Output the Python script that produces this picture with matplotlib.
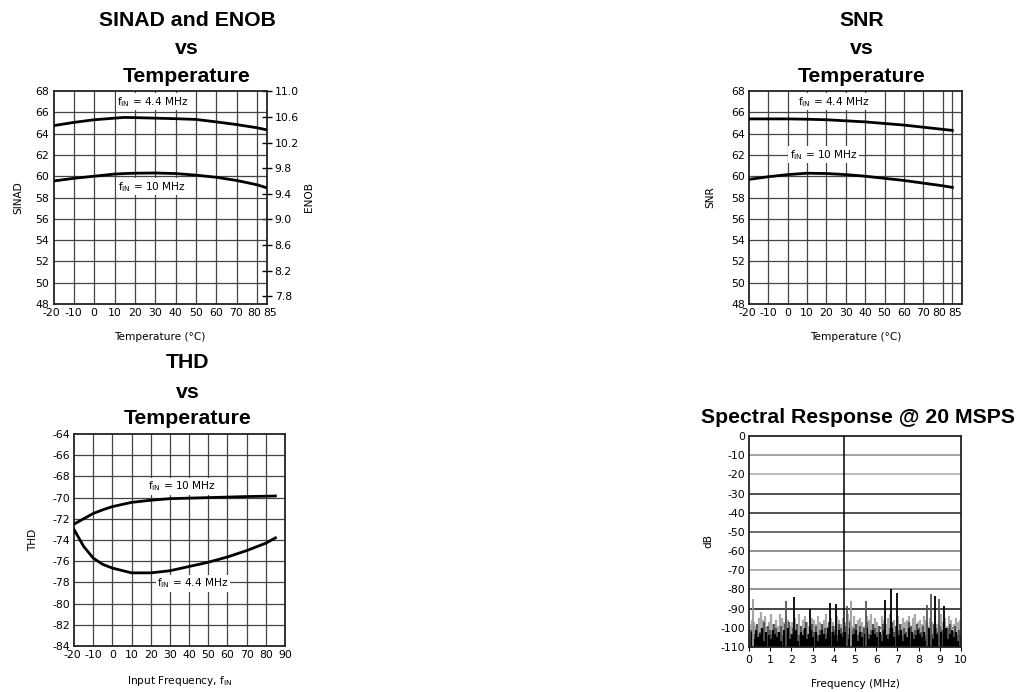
import numpy as np
import matplotlib
matplotlib.use("Agg")
import matplotlib.pyplot as plt
from matplotlib.transforms import ScaledTranslation

W, H = 1022, 692

# ---------------- data ----------------
temp_sinad = [-20, -10, 0, 10, 15, 20, 30, 40, 50, 60, 70, 80, 85]
sinad_44 = [64.75, 65.05, 65.3, 65.45, 65.52, 65.5, 65.45, 65.4, 65.33, 65.1, 64.85, 64.55, 64.35]
sinad_10 = [59.55, 59.8, 60.0, 60.2, 60.25, 60.28, 60.3, 60.25, 60.1, 59.9, 59.6, 59.2, 58.9]

temp_snr = [-20, -10, 0, 10, 20, 30, 40, 50, 60, 70, 80, 85]
snr_44 = [65.38, 65.38, 65.38, 65.35, 65.3, 65.2, 65.1, 64.95, 64.8, 64.6, 64.4, 64.3]
snr_10 = [59.7, 59.95, 60.15, 60.28, 60.25, 60.15, 60.0, 59.8, 59.6, 59.35, 59.1, 58.95]

temp_thd = [-20, -15, -10, -5, 0, 10, 20, 30, 40, 50, 60, 70, 80, 85]
thd_10 = [-72.5, -72.0, -71.5, -71.15, -70.85, -70.45, -70.25, -70.1, -70.05, -70.0, -69.95, -69.9, -69.87, -69.85]
thd_44 = [-73.0, -74.6, -75.7, -76.3, -76.65, -77.1, -77.1, -76.9, -76.5, -76.1, -75.6, -75.0, -74.3, -73.8]

temp_ticks = [-20, -10, 0, 10, 20, 30, 40, 50, 60, 70, 80, 85]
thd_ticks = [-20, -10, 0, 10, 20, 30, 40, 50, 60, 70, 80, 90]
enob_ticks = [7.8, 8.2, 8.6, 9.0, 9.4, 9.8, 10.2, 10.6, 11.0]

# spectral response (dB), 0 to 10 MHz
fundamental_freq = 4.5
fundamental_db = 0.0
spur_freq = [0.2, 1.75, 2.1, 2.9, 3.8, 4.1, 4.6, 4.8, 5.5, 6.4, 6.7, 7.0, 8.4, 8.6, 8.75, 8.95, 9.2]
spur_db = [-85, -86, -84, -90, -87, -87.5, -88.5, -86, -86, -85.5, -80, -82, -88, -82.5, -83.5, -85, -88.5]
spur_shade = ['#999999', '#555555', '#000000', '#000000', '#000000', '#000000', '#555555', '#999999',
              '#555555', '#000000', '#000000', '#000000', '#555555', '#555555', '#000000', '#555555', '#000000']

noise_light = [-98, -96, -97, -99, -95, -92, -96, -94, -100, -97, -93, -98, -96, -99, -93, -95, -97, -94, -96, -99,
               -97, -95, -98, -93, -100, -96, -94, -97, -99, -95, -96, -98, -94, -97, -99, -96, -93, -98, -95, -97,
               -99, -94, -96, -98, -95, -97, -93, -96, -99, -94, -98, -96, -95, -97, -99, -94, -96, -93, -98, -95,
               -97, -99, -94, -96, -98, -95, -93, -97, -96, -99, -94, -98, -95, -97, -96, -94, -99, -95, -93, -97,
               -96, -98, -94, -96, -99, -95, -97, -94, -98, -96, -93, -97, -95, -99, -94, -96, -98, -95, -97, -96]
noise_mid = [-101, -99, -103, -98, -102, -100, -97, -104, -99, -101, -103, -98, -100, -102, -99, -104, -98, -101, -97, -103,
             -100, -102, -98, -104, -99, -101, -97, -103, -100, -98, -102, -99, -104, -101, -98, -100, -103, -97, -102, -99,
             -101, -104, -98, -100, -102, -99, -103, -97, -101, -100, -98, -104, -99, -102, -100, -97, -103, -101, -98, -100,
             -102, -99, -104, -98, -101, -103, -100, -97, -102, -99, -101, -98, -104, -100, -102, -97, -99, -103, -101, -98,
             -100, -102, -99, -104, -97, -101, -103, -98, -100, -102, -99, -101, -97, -103, -100, -98, -102, -99, -104, -101]
noise_dark = [-104, -102, -106, -101, -105, -103, -100, -107, -102, -104, -106, -101, -103, -105, -102, -107, -101, -104, -100, -106,
              -103, -105, -101, -107, -102, -104, -100, -106, -103, -101, -105, -102, -107, -104, -101, -103, -106, -100, -105, -102,
              -104, -107, -101, -103, -105, -102, -106, -100, -104, -103, -101, -107, -102, -105, -103, -100, -106, -104, -101, -103,
              -105, -102, -107, -101, -104, -106, -103, -100, -105, -102, -104, -101, -107, -103, -105, -100, -102, -106, -104, -101,
              -103, -105, -102, -107, -100, -104, -106, -101, -103, -105, -102, -104, -100, -106, -103, -101, -105, -102, -107, -104]

# ---------------- style ----------------
plt.rcParams['font.family'] = ['DejaVu Sans']
plt.rcParams['axes.unicode_minus'] = False
TICK_FS = 7.8
LBL_FS = 7.6
TITLE_FS = 15.3
LINE_W = 2.0

fig = plt.figure(figsize=(W / 100, H / 100), dpi=100)


def rect(l, t, r, b):
    return [l / W, 1 - b / H, (r - l) / W, (b - t) / H]


def style_axes(ax):
    for s in ax.spines.values():
        s.set_linewidth(1.3)
        s.set_color('#222222')
    ax.tick_params(labelsize=TICK_FS, length=0, pad=3)


def grid(ax, xs, ys, xlim, ylim):
    for x in xs:
        ax.plot([x, x], ylim, color='#444444', lw=0.9, zorder=1)
    for y in ys:
        ax.plot(xlim, [y, y], color='#444444', lw=0.9, zorder=1)


def flabel(ax, x, y, text):
    ax.text(x, y, text, fontsize=LBL_FS, ha='center', va='center', zorder=4,
            bbox=dict(facecolor='white', edgecolor='none', pad=1.2))


def title(xc, yc_lines, lines):
    for yc, t in zip(yc_lines, lines):
        fig.text(xc / W, 1 - yc / H, t, fontsize=TITLE_FS, fontweight='bold',
                 family='Liberation Sans', ha='center', va='center')


def shift_label(lbl, dx_px):
    lbl.set_transform(lbl.get_transform() + ScaledTranslation(dx_px / 100, 0, fig.dpi_scale_trans))


def separate_ends(ax):
    labels = ax.get_xticklabels()
    shift_label(labels[-2], -3)
    shift_label(labels[-1], 3)
    shift_label(labels[0], -2)


# ---------- SINAD / ENOB ----------
ax1 = fig.add_axes(rect(53.5, 91, 267, 304))
xl, yl = (-20, 85), (48, 68)
ax1.set_xlim(*xl); ax1.set_ylim(*yl)
grid(ax1, range(-10, 81, 10), range(50, 67, 2), xl, yl)
ax1.plot(temp_sinad, sinad_44, color='black', lw=LINE_W, zorder=3)
ax1.plot(temp_sinad, sinad_10, color='black', lw=LINE_W, zorder=3)
ax1.set_xticks(temp_ticks)
ax1.set_yticks(range(48, 69, 2))
style_axes(ax1)
separate_ends(ax1)
ax1.set_ylabel('SINAD', fontsize=LBL_FS, labelpad=9)
ax1.set_xlabel('Temperature (°C)', fontsize=LBL_FS, labelpad=10)
flabel(ax1, 29, 67.0, r'f$_{\rm IN}$ = 4.4 MHz')
flabel(ax1, 28.5, 59.0, r'f$_{\rm IN}$ = 10 MHz')
sec = ax1.secondary_yaxis('right', functions=(lambda s: (s - 1.76) / 6.02, lambda e: e * 6.02 + 1.76))
sec.set_yticks(enob_ticks)
sec.set_yticklabels([f'{v:.1f}' for v in enob_ticks])
sec.tick_params(labelsize=TICK_FS, direction='inout', length=7, width=1, pad=2)
sec.spines['right'].set_visible(False)
sec.set_ylabel('ENOB', fontsize=LBL_FS, labelpad=4)
title(187, [20, 48, 76], ['SINAD and ENOB', 'vs', 'Temperature'])

# ---------- SNR ----------
ax2 = fig.add_axes(rect(749, 91, 962, 304))
xl, yl = (-20, 90), (48, 68)
ax2.set_xlim(*xl); ax2.set_ylim(*yl)
grid(ax2, list(range(-10, 81, 10)) + [85], range(50, 67, 2), xl, yl)
ax2.plot(temp_snr, snr_44, color='black', lw=LINE_W, zorder=3)
ax2.plot(temp_snr, snr_10, color='black', lw=LINE_W, zorder=3)
ax2.set_xticks(temp_ticks)
ax2.set_yticks(range(48, 69, 2))
style_axes(ax2)
separate_ends(ax2)
ax2.set_ylabel('SNR', fontsize=LBL_FS, labelpad=11)
ax2.set_xlabel('Temperature (°C)', fontsize=LBL_FS, labelpad=10)
flabel(ax2, 23.5, 67.0, r'f$_{\rm IN}$ = 4.4 MHz')
flabel(ax2, 18.5, 62.0, r'f$_{\rm IN}$ = 10 MHz')
title(862, [20, 48, 76], ['SNR', 'vs', 'Temperature'])

# ---------- THD ----------
ax3 = fig.add_axes(rect(74, 434, 285, 646))
xl, yl = (-20, 90), (-84, -64)
ax3.set_xlim(*xl); ax3.set_ylim(*yl)
grid(ax3, range(-10, 81, 10), range(-82, -65, 2), xl, yl)
ax3.plot(temp_thd, thd_10, color='black', lw=LINE_W, zorder=3)
ax3.plot(temp_thd, thd_44, color='black', lw=LINE_W, zorder=3)
ax3.set_xticks(thd_ticks)
ax3.set_yticks(range(-84, -63, 2))
style_axes(ax3)
shift_label(ax3.get_xticklabels()[0], -2)
ax3.set_ylabel('THD', fontsize=LBL_FS, labelpad=10)
ax3.set_xlabel(r'Input Frequency, f$_{\rm IN}$', fontsize=LBL_FS, labelpad=10)
flabel(ax3, 36.5, -68.95, r'f$_{\rm IN}$ = 10 MHz')
flabel(ax3, 42, -78.1, r'f$_{\rm IN}$ = 4.4 MHz')
title(188, [363, 392, 419], ['THD', 'vs', 'Temperature'])

# ---------- Spectral ----------
ax4 = fig.add_axes(rect(749, 436, 961, 647))
ax4.set_xlim(0, 10); ax4.set_ylim(-110, 0)
grid_cols = ['#888888', '#aaaaaa', '#222222', '#222222', '#444444', '#777777', '#999999', '#777777', '#111111', '#222222']
for y, c in zip(range(-10, -101, -10), grid_cols):
    ax4.plot([0, 10], [y, y], color=c, lw=1.1, zorder=1)
f_light = np.linspace(0.05, 9.95, len(noise_light))
f_mid = np.linspace(0.1, 9.9, len(noise_mid))
f_dark = np.linspace(0.02, 9.98, len(noise_dark))
ax4.vlines(f_light, -110, noise_light, color='#aaaaaa', lw=1.6, zorder=2)
ax4.vlines(f_mid, -110, noise_mid, color='#555555', lw=1.6, zorder=2)
ax4.vlines(f_dark, -110, noise_dark, color='#000000', lw=1.6, zorder=2)
ax4.vlines(spur_freq, -110, spur_db, colors=spur_shade, lw=1.3, zorder=2)
ax4.vlines([fundamental_freq], -110, [fundamental_db], color='black', lw=1.1, zorder=3)
ax4.set_xticks(range(0, 11))
ax4.set_yticks(range(-110, 1, 10))
style_axes(ax4)
ax4.tick_params(axis='x', length=3, direction='out')
ax4.set_ylabel('dB', fontsize=LBL_FS, labelpad=5)
ax4.set_xlabel('Frequency (MHz)', fontsize=LBL_FS, labelpad=10)
title(858, [418], ['Spectral Response @ 20 MSPS'])

fig.savefig('out.png', dpi=100)
